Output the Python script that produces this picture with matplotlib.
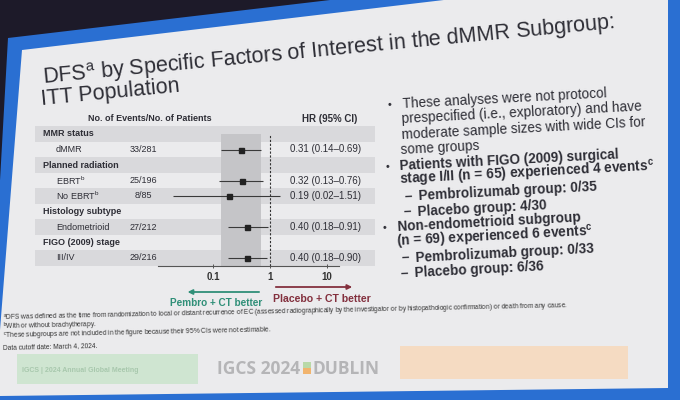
import numpy as np
import matplotlib.pyplot as plt
from matplotlib.patches import Polygon, Rectangle
from matplotlib.ticker import NullLocator
from matplotlib.transforms import blended_transform_factory

plt.rcParams['font.family'] = ['Liberation Sans', 'DejaVu Sans']
plt.rcParams['mathtext.fontset'] = 'custom'
plt.rcParams['mathtext.rm'] = 'Liberation Sans'
plt.rcParams['mathtext.bf'] = 'Liberation Sans:bold'

# ---- data ----
row_labels = ['MMR status', 'dMMR', 'Planned radiation', r'EBRT$^\mathrm{b}$',
              r'No EBRT$^\mathrm{b}$', 'Histology subtype', 'Endometrioid',
              'FIGO (2009) stage', 'III/IV']
is_group = [True, False, True, False, False, True, False, True, False]
events = ['', '33/281', '', '25/196', '8/85', '', '27/212', '', '29/216']
hr = np.array([np.nan, 0.31, np.nan, 0.32, 0.19, np.nan, 0.40, np.nan, 0.40])
ci_lo = np.array([np.nan, 0.14, np.nan, 0.13, 0.02, np.nan, 0.18, np.nan, 0.18])
ci_hi = np.array([np.nan, 0.69, np.nan, 0.76, 1.51, np.nan, 0.91, np.nan, 0.90])
xticks = [0.1, 1, 10]
xtick_labels = ['0.1', '1', '10']

title_lines = [r'DFS$^\mathrm{a}$ by Specific Factors of Interest in the dMMR Subgroup:',
               'ITT Population']

# (level, text, bold, starts new bullet)
bullets = [
    (1, 'These analyses were not protocol', False, True),
    (1, 'prespecified (i.e., exploratory) and have', False, False),
    (1, 'moderate sample sizes with wide CIs for', False, False),
    (1, 'some groups', False, False),
    (1, 'Patients with FIGO (2009) surgical', True, True),
    (1, r'stage I/II (n = 65) experienced 4 events$^\mathbf{c}$', True, False),
    (2, 'Pembrolizumab group: 0/35', True, True),
    (2, 'Placebo group: 4/30', True, True),
    (1, 'Non-endometrioid subgroup', True, True),
    (1, r'(n = 69) experienced 6 events$^\mathbf{c}$', True, False),
    (2, 'Pembrolizumab group: 0/33', True, True),
    (2, 'Placebo group: 6/36', True, True),
]

footnotes = [
    r'$^\mathrm{a}$DFS was defined as the time from randomization to local or distant recurrence of EC '
    '(assessed radiographically by the investigator or by histopathologic confirmation) or death from any cause.',
    r'$^\mathrm{b}$With or without brachytherapy.',
    r'$^\mathrm{c}$These subgroups are not included in the figure because their 95% CIs were not estimable.',
    'Data cutoff date: March 4, 2024.',
]

# colours
dark_bg = '#1d1a29'
blue = '#2a6fd2'
slide = '#ebebed'
stripe = '#d9d9dc'
band = '#c5c5c8'
ink = '#2e2e36'
green = '#2f8f78'
red = '#83303e'

W, H = 680, 400
fig = plt.figure(figsize=(W / 100, H / 100), dpi=100)
fig.patch.set_facecolor(dark_bg)

# background axes in pixel coordinates for the slide frame and free text
bg = fig.add_axes([0, 0, 1, 1])
bg.set_xlim(0, W)
bg.set_ylim(H, 0)
bg.axis('off')
bg.add_patch(Polygon([(8, 38), (720, -46), (720, 430), (-14, 430)], closed=True,
                     color=blue, lw=0))
bg.add_patch(Polygon([(22, 50), (680, -28), (668, -28), (668, 388), (0, 396), (0, 330)],
                     closed=True, color=slide, lw=0))

# title (photo is taken at an angle)
bg.text(43, 84, title_lines[0], fontsize=15.5, color=ink, rotation=5.5,
        rotation_mode='anchor', ha='left', va='baseline')
bg.text(42, 105, title_lines[1], fontsize=15.5, color=ink, rotation=5.5,
        rotation_mode='anchor', ha='left', va='baseline')

# ---- forest plot ----
rows = np.arange(1, len(row_labels) + 1)
ax_left, ax_right = 30, 375
row_top, row_h = 110.75, 15.5
ax = fig.add_axes([ax_left / W, 1 - (row_top + 10 * row_h) / H,
                   (ax_right - ax_left) / W, 10 * row_h / H])
ax.set_facecolor('none')
ax.set_xscale('log')
px_per_decade = 57
x_one = 270
ax.set_xlim(10 ** (-(x_one - ax_left) / px_per_decade), 10 ** ((ax_right - x_one) / px_per_decade))
ax.set_ylim(len(row_labels) + 0.5, -0.5)

for y in rows[::2]:
    ax.axhspan(y - 0.5, y + 0.5, xmin=5 / (ax_right - ax_left), xmax=1, color=stripe, lw=0, zorder=0)

top_frac = (len(row_labels) - 0.5) / (len(row_labels) + 1)
ax.axvspan(ci_lo[1], ci_hi[1], ymin=0, ymax=top_frac, color=band, lw=0, zorder=1)
ax.axvline(1, ymin=0, ymax=top_frac, color='#333333', lw=0.8, ls=(0, (2, 1.5)), zorder=2)

ok = ~np.isnan(hr)
ax.hlines(rows[ok], ci_lo[ok], ci_hi[ok], color='#3a3a3a', lw=0.8, zorder=3)
ax.plot(hr[ok], rows[ok], 's', ms=3.6, color='#222222', zorder=4)

for s in ['top', 'right', 'left']:
    ax.spines[s].set_visible(False)
ax.spines['bottom'].set_bounds(0.011, 16)
ax.spines['bottom'].set_color('#555555')
ax.spines['bottom'].set_linewidth(0.8)
ax.set_xticks(xticks)
ax.set_xticklabels(xtick_labels, fontsize=7, fontweight='bold', color='#333333')
ax.xaxis.set_minor_locator(NullLocator())
ax.tick_params(axis='x', length=3, width=0.7, color='#555555', pad=3, direction='inout')
ax.tick_params(axis='y', left=False, labelleft=False)

# row labels: x in pixels, y in row units
tr = blended_transform_factory(bg.transData, ax.transData)
ax.text(150, 0, 'No. of Events/No. of Patients', transform=tr, fontsize=6.5,
        fontweight='bold', color=ink, ha='center', va='center')
ax.text(330, 0, 'HR (95% CI)', transform=tr, fontsize=7, fontweight='bold',
        color=ink, ha='center', va='center')
for y, lab, grp, ev, h, lo, hi in zip(rows, row_labels, is_group, events, hr, ci_lo, ci_hi):
    ax.text(43 if grp else 56, y, lab, transform=tr, fontsize=6.5,
            fontweight='bold' if grp else 'normal', color=ink, ha='left', va='center')
    if ev:
        ax.text(143, y, ev, transform=tr, fontsize=6.5, color=ink, ha='center', va='center')
    if not np.isnan(h):
        ax.text(290, y, f'{h:.2f} ({lo:.2f}\u2013{hi:.2f})', transform=tr, fontsize=7,
                color=ink, ha='left', va='center')

# direction arrows
tr_arrow = blended_transform_factory(ax.transData, bg.transData)
ax.annotate('', xy=(0.032, 292), xytext=(0.72, 292), xycoords=tr_arrow, textcoords=tr_arrow,
            arrowprops=dict(arrowstyle='-|>', color=green, lw=1.3, mutation_scale=7))
ax.annotate('', xy=(31, 287), xytext=(1.13, 287), xycoords=tr_arrow, textcoords=tr_arrow,
            arrowprops=dict(arrowstyle='-|>', color=red, lw=1.3, mutation_scale=7))
ax.text(0.72, 303, 'Pembro + CT better', transform=tr_arrow, fontsize=7.2, fontweight='bold',
        color=green, ha='right', va='center')
ax.text(1.13, 299, 'Placebo + CT better', transform=tr_arrow, fontsize=7.6, fontweight='bold',
        color=red, ha='left', va='center')

# ---- bullet text on the right ----
y0, dy = 108, 15.4
for i, (lvl, txt, bold, new) in enumerate(bullets):
    xl = 403 - 0.7 * i
    yb = y0 + dy * i
    w = 'bold' if bold else 'normal'
    if lvl == 1:
        if new:
            bg.text(xl - 15, yb, '\u2022', fontsize=8, color=ink, rotation=3,
                    rotation_mode='anchor', va='baseline')
        bg.text(xl, yb, txt, fontsize=9.8, fontweight=w, color=ink, rotation=3,
                rotation_mode='anchor', ha='left', va='baseline')
    else:
        bg.text(xl + 6, yb, '\u2013', fontsize=9.8, fontweight=w, color=ink, rotation=3,
                rotation_mode='anchor', va='baseline')
        bg.text(xl + 20, yb, txt, fontsize=9.8, fontweight=w, color=ink, rotation=3,
                rotation_mode='anchor', ha='left', va='baseline')

# ---- footnotes ----
for yb, txt in zip([321, 330, 339, 349], footnotes):
    bg.text(3, yb, txt, fontsize=4.8, color='#333333', rotation=1.2,
            rotation_mode='anchor', ha='left', va='baseline')

# ---- footer bar ----
bg.add_patch(Rectangle((17, 354), 181, 30, color='#cfe5d1', lw=0))
bg.text(22, 371, 'IGCS | 2024 Annual Global Meeting', fontsize=5, fontweight='bold',
        color='#a8c8ad', va='center')
bg.text(217, 369, 'IGCS 2024', family=['Open Sans', 'DejaVu Sans'], fontsize=12.5,
        fontweight='bold', color='#b5b5b7', va='center')
bg.add_patch(Rectangle((303, 362), 8, 6, color='#b9d9a8', lw=0))
bg.add_patch(Rectangle((303, 368), 8, 6, color='#f1b46e', lw=0))
bg.text(313, 369, 'DUBLIN', family=['Open Sans', 'DejaVu Sans'], fontsize=12.5,
        fontweight='bold', color='#b5b5b7', va='center')
bg.add_patch(Rectangle((400, 346), 228, 33, color='#f5dbc2', lw=0))

fig.savefig('out.png', dpi=100, facecolor=fig.get_facecolor())
